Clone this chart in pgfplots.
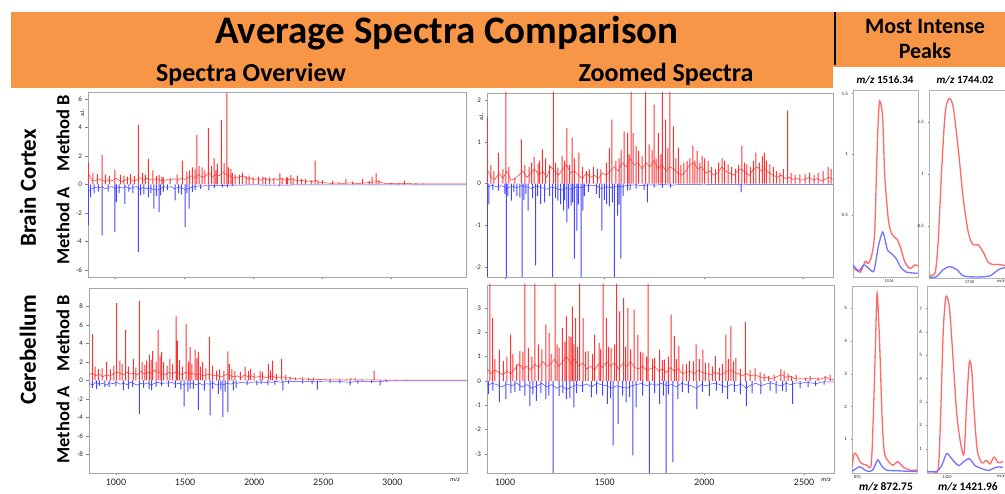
\documentclass[border=0pt]{standalone}
\usepackage{pgfplots}
\pgfplotsset{compat=1.18}
\usepackage{fontspec}
\setmainfont{Carlito}
\definecolor{hdr}{RGB}{247,150,70}
\definecolor{sred}{RGB}{255,50,50}
\definecolor{sblue}{RGB}{70,70,255}
\definecolor{pred}{RGB}{255,105,105}
\definecolor{pblue}{RGB}{115,115,255}
\newcommand{\fs}[1]{\fontsize{#1}{#1}\selectfont}
\pgfplotsset{
  mainax/.style={scale only axis, anchor=south west, axis line style={black!35},
    tick pos=left, tick align=outside, major tick length=2.5pt, minor tick length=1.5pt,
    every tick/.append style={black!50, line width=0.4pt},
    /pgf/number format/assume math mode=true, /pgf/number format/1000 sep={},
    yticklabel style={font=\fs{7}, text=black!85},
    xticklabel style={font=\fs{10}, text=black!85}},
  smallax/.style={scale only axis, anchor=south west, axis line style={black!30},
    tick pos=left, tick align=outside, major tick length=1.5pt,
    every tick/.append style={black!50, line width=0.3pt},
    /pgf/number format/assume math mode=true, /pgf/number format/1000 sep={},
    yticklabel style={font=\fs{5}, text=black!85},
    xticklabel style={font=\fs{4.5}, text=black!85, inner sep=1pt}},
  rpk/.style={ybar, bar width=1pt, bar shift=0pt, fill=sred, draw=none},
  bpk/.style={ybar, bar width=1pt, bar shift=0pt, fill=sblue, draw=none},
  rbase/.style={sred, line width=0.5pt, sharp plot},
  bbase/.style={sblue, line width=0.5pt, sharp plot},
  rsm/.style={pred, line width=1.3pt, smooth, tension=0.45},
  bsm/.style={pblue, line width=1.3pt, smooth, tension=0.45},
}
\begin{document}
\begin{tikzpicture}
\useasboundingbox (0pt,0pt) rectangle (1005pt,494pt);
% header
\fill[hdr] (11pt,482pt) rectangle (1005pt,427pt);
\fill[hdr] (11pt,427.5pt) rectangle (833pt,406pt);
\draw[line width=2.6pt] (835pt,482pt) -- (835pt,429pt);
\node[anchor=base, font=\bfseries\fs{39}] at (447pt,450pt) {Average Spectra Comparison};
\node[anchor=base, font=\bfseries\fs{26}] at (251pt,412.3pt) {Spectra Overview};
\node[anchor=base, font=\bfseries\fs{26}] at (666pt,412.3pt) {Zoomed Spectra};
\node[anchor=base, font=\bfseries\fs{22}] at (925pt,460.5pt) {Most Intense};
\node[anchor=base, font=\bfseries\fs{22}] at (925pt,435.5pt) {Peaks};
% row labels
\node[rotate=90, font=\bfseries\fs{23}] at (28pt,306pt) {Brain Cortex};
\node[rotate=90, font=\bfseries\fs{23}] at (28pt,144pt) {Cerebellum};
\node[rotate=90, font=\bfseries\fs{18.5}] at (63pt,361pt) {Method B};
\node[rotate=90, font=\bfseries\fs{18.5}] at (63pt,268pt) {Method A};
\node[rotate=90, font=\bfseries\fs{18.5}] at (63pt,161pt) {Method B};
\node[rotate=90, font=\bfseries\fs{18.5}] at (63pt,69pt) {Method A};
% peak labels
\node[anchor=base, font=\bfseries\fs{11}] at (885pt,410.5pt) {\textit{m/z} 1516.34};
\node[anchor=base, font=\bfseries\fs{11}] at (965pt,410.5pt) {\textit{m/z} 1744.02};
\node[anchor=base, font=\bfseries\fs{11.5}] at (886pt,3pt) {\textit{m/z} 872.75};
\node[anchor=base, font=\bfseries\fs{11.5}] at (968pt,3pt) {\textit{m/z} 1421.96};
% small axis texts
\node[rotate=90, font=\fs{6}] at (82pt,381pt) {a.i.};
\node[rotate=90, font=\fs{6}] at (481pt,377pt) {a.i.};
\node[font=\itshape\fs{6}] at (455pt,14pt) {m/z};
\node[font=\itshape\fs{6}] at (826pt,14pt) {m/z};
\node[font=\itshape\fs{4.5}] at (1001pt,213pt) {m/z};
\node[font=\itshape\fs{4.5}] at (1001pt,18pt) {m/z};

%================ Overview, Brain Cortex
\begin{axis}[mainax, at={(88pt,217pt)}, width=378pt, height=185pt,
  xmin=805, xmax=3540, ymin=-6.5, ymax=6.5,
  xtick={1000,1500,...,3000}, minor x tick num=4, xticklabels={},
  ytick={-6,-4,...,6}]
\addplot[rbase] coordinates {(805,0.9)(830,0.3)(855,0.25)(880,0.4)(905,0.3)(930,0.2)(955,0.35)(980,0.25)(1005,0.45)(1030,0.3)(1055,0.2)(1080,0.35)(1105,0.4)(1130,0.25)(1155,0.3)(1180,0.5)(1205,0.3)(1230,0.45)(1255,0.35)(1280,0.3)(1305,0.4)(1330,0.3)(1355,0.25)(1380,0.35)(1405,0.3)(1430,0.4)(1455,0.3)(1480,0.45)(1505,0.35)(1530,0.5)(1555,0.6)(1580,0.45)(1605,0.7)(1630,0.5)(1655,0.6)(1680,0.8)(1705,0.55)(1730,0.7)(1755,0.6)(1780,0.9)(1805,0.7)(1830,0.6)(1855,0.45)(1880,0.5)(1905,0.55)(1930,0.6)(1955,0.4)(1980,0.45)(2005,0.35)(2030,0.4)(2055,0.3)(2080,0.45)(2105,0.35)(2130,0.3)(2155,0.4)(2180,0.35)(2205,0.45)(2230,0.3)(2255,0.35)(2280,0.4)(2305,0.3)(2330,0.25)(2355,0.3)(2380,0.2)(2405,0.25)(2430,0.2)(2455,0.3)(2480,0.15)(2520,0.12)(2560,0.08)(2600,0.1)(2650,0.08)(2700,0.12)(2750,0.07)(2800,0.1)(2850,0.15)(2900,0.2)(2950,0.08)(3000,0.06)(3050,0.05)(3100,0.08)(3150,0.05)(3200,0.04)(3250,0.05)(3300,0.04)(3350,0.05)(3400,0.04)(3450,0.04)(3540,0.04)};
\addplot[rpk] coordinates {(807,1.57)(840,0.8)(872,0.75)(908,2.08)(930,0.7)(960,0.6)(1000,1.05)(1040,0.7)(1065,0.63)(1090,0.55)(1113,0.75)(1140,0.6)(1169,4.19)(1200,0.8)(1220,0.7)(1241,1.8)(1275,1.0)(1300,0.6)(1319,0.68)(1340,0.55)(1350,0.5)(1400,0.45)(1450,0.7)(1488,1.68)(1520,0.9)(1540,1.0)(1560,1.2)(1580,1.1)(1592,3.49)(1609,1.3)(1630,1.2)(1650,1.0)(1676,3.98)(1700,1.3)(1717,1.85)(1730,1.0)(1741,1.45)(1770,4.54)(1790,1.5)(1809,6.45)(1820,1.2)(1838,1.1)(1850,0.8)(1870,0.7)(1900,0.7)(1922,0.82)(1950,0.6)(1970,0.63)(2000,0.5)(2040,0.55)(2070,0.55)(2091,0.5)(2120,0.5)(2150,0.45)(2194,0.82)(2210,0.45)(2240,0.5)(2250,0.5)(2272,0.68)(2290,0.45)(2320,0.63)(2350,0.4)(2380,0.4)(2420,0.3)(2449,1.68)(2470,0.25)(2500,0.3)(2575,0.23)(2620,0.15)(2671,0.4)(2720,0.2)(2792,0.4)(2840,0.25)(2860,0.55)(2889,0.82)(2910,0.3)(3000,0.12)(3050,0.1)(3094,0.28)(3178,0.12)(3230,0.08)};
\addplot[bbase] coordinates {(805,-0.5)(830,-0.3)(855,-0.2)(880,-0.25)(905,-0.15)(930,-0.3)(955,-0.2)(980,-0.15)(1005,-0.3)(1030,-0.2)(1055,-0.25)(1080,-0.15)(1105,-0.3)(1130,-0.2)(1155,-0.15)(1180,-0.35)(1205,-0.2)(1230,-0.3)(1255,-0.25)(1280,-0.35)(1305,-0.4)(1330,-0.3)(1355,-0.15)(1380,-0.2)(1405,-0.15)(1430,-0.3)(1455,-0.2)(1480,-0.25)(1505,-0.35)(1530,-0.3)(1555,-0.2)(1580,-0.15)(1605,-0.1)(1630,-0.12)(1655,-0.08)(1680,-0.1)(1705,-0.06)(1730,-0.08)(1755,-0.05)(1780,-0.08)(1805,-0.06)(1830,-0.05)(1900,-0.04)(2000,-0.03)(2100,-0.04)(2200,-0.05)(2300,-0.03)(2500,-0.03)(2700,-0.02)(3000,-0.02)(3540,-0.02)};
\addplot[bpk] coordinates {(807,-2.88)(824,-0.9)(850,-0.6)(880,-0.5)(908,-3.58)(950,-0.5)(1000,-3.35)(1010,-1.24)(1030,-0.6)(1072,-1.36)(1100,-0.5)(1130,-0.6)(1169,-4.75)(1186,-0.77)(1210,-0.7)(1241,-0.9)(1260,-0.6)(1282,-1.7)(1300,-0.8)(1319,-1.94)(1331,-0.77)(1350,-0.5)(1380,-0.4)(1435,-1.12)(1460,-0.6)(1480,-0.7)(1507,-3.0)(1520,-0.6)(1536,-1.7)(1560,-0.54)(1580,-0.4)(1620,-0.3)(1680,-0.42)(1720,-0.25)(1778,-0.2)(1814,-0.2)(1850,-0.1)(2187,-0.14)};
\end{axis}

%================ Zoomed, Brain Cortex
\begin{axis}[mainax, at={(487pt,217pt)}, width=346pt, height=184pt,
  xmin=910, xmax=2650, ymin=-2.24, ymax=2.17,
  xtick={1000,1500,2000,2500}, minor x tick num=4, xticklabels={},
  ytick={-2,-1,0,1,2}]
\addplot[rbase] coordinates {(910,0.35)(930,0.15)(950,0.1)(970,0.25)(990,0.12)(1010,0.3)(1030,0.08)(1050,0.12)(1070,0.2)(1090,0.3)(1110,0.15)(1130,0.25)(1150,0.35)(1170,0.2)(1190,0.3)(1210,0.15)(1230,0.4)(1250,0.3)(1270,0.2)(1290,0.35)(1310,0.45)(1330,0.25)(1350,0.3)(1370,0.2)(1390,0.12)(1410,0.25)(1430,0.15)(1450,0.2)(1470,0.12)(1490,0.25)(1510,0.2)(1530,0.3)(1550,0.4)(1570,0.3)(1590,0.5)(1610,0.4)(1630,0.6)(1650,0.45)(1670,0.5)(1690,0.35)(1710,0.5)(1730,0.4)(1750,0.55)(1770,0.35)(1790,0.45)(1810,0.3)(1830,0.4)(1850,0.35)(1870,0.25)(1890,0.2)(1910,0.3)(1930,0.45)(1950,0.5)(1970,0.35)(1990,0.4)(2010,0.25)(2030,0.3)(2050,0.2)(2070,0.25)(2090,0.4)(2110,0.3)(2130,0.25)(2150,0.2)(2170,0.3)(2190,0.35)(2210,0.25)(2230,0.2)(2250,0.35)(2270,0.4)(2290,0.3)(2310,0.35)(2330,0.25)(2350,0.2)(2370,0.15)(2390,0.2)(2410,0.12)(2430,0.15)(2450,0.1)(2470,0.12)(2490,0.08)(2510,0.1)(2530,0.15)(2550,0.08)(2570,0.12)(2590,0.07)(2610,0.1)(2630,0.15)(2650,0.1)};
\addplot[rpk] coordinates {(912,1.61)(930,0.45)(945,0.3)(967,0.74)(990,0.35)(1005,2.5)(1020,0.4)(1050,0.14)(1083,1.06)(1100,0.45)(1122,0.4)(1135,0.5)(1147,0.63)(1167,0.48)(1175,0.55)(1188,0.82)(1205,0.6)(1225,0.45)(1244,2.5)(1255,0.5)(1267,0.38)(1288,0.66)(1300,0.55)(1312,1.33)(1325,0.45)(1338,1.1)(1350,0.6)(1372,0.74)(1390,0.4)(1410,0.3)(1425,0.34)(1445,0.4)(1465,0.35)(1483,0.34)(1510,0.5)(1525,0.85)(1538,1.53)(1558,0.54)(1575,0.6)(1585,0.8)(1600,1.25)(1617,1.21)(1625,0.7)(1635,2.5)(1645,1.21)(1660,0.9)(1672,0.78)(1690,0.65)(1708,2.5)(1725,0.94)(1740,0.8)(1750,1.89)(1760,0.6)(1772,1.21)(1785,0.7)(1792,2.5)(1808,1.53)(1820,0.85)(1830,2.5)(1847,1.37)(1860,0.6)(1872,0.86)(1885,0.45)(1900,0.5)(1917,0.54)(1930,0.6)(1945,0.9)(1955,0.55)(1967,0.78)(1980,0.5)(1992,0.66)(2005,0.6)(2022,0.54)(2040,0.4)(2060,0.35)(2075,0.5)(2092,0.6)(2105,0.55)(2122,0.46)(2140,0.4)(2160,0.35)(2175,0.45)(2192,0.9)(2205,0.5)(2217,0.46)(2235,0.4)(2250,0.55)(2262,0.74)(2280,0.5)(2295,0.65)(2305,0.74)(2315,0.55)(2333,0.46)(2350,0.4)(2365,0.3)(2383,0.26)(2400,0.35)(2422,1.75)(2440,0.25)(2460,0.2)(2483,0.22)(2510,0.22)(2533,0.26)(2555,0.2)(2575,0.26)(2600,0.3)(2625,0.4)(2640,0.35)};
\addplot[bbase] coordinates {(910,-0.1)(935,-0.04)(960,-0.08)(985,-0.05)(1010,-0.12)(1035,-0.06)(1060,-0.1)(1085,-0.05)(1110,-0.08)(1135,-0.12)(1160,-0.06)(1185,-0.1)(1210,-0.14)(1235,-0.08)(1260,-0.12)(1285,-0.16)(1310,-0.1)(1335,-0.14)(1360,-0.08)(1385,-0.1)(1410,-0.05)(1435,-0.04)(1460,-0.06)(1485,-0.12)(1510,-0.08)(1535,-0.1)(1560,-0.06)(1585,-0.08)(1610,-0.05)(1635,-0.04)(1660,-0.03)(1685,-0.05)(1710,-0.04)(1735,-0.03)(1760,-0.04)(1785,-0.02)(1810,-0.03)(1835,-0.04)(1900,-0.02)(2000,-0.03)(2100,-0.02)(2200,-0.03)(2300,-0.02)(2400,-0.02)(2500,-0.02)(2650,-0.02)};
\addplot[bpk] coordinates {(912,-2.5)(920,-0.5)(940,-0.15)(967,-0.17)(1000,-0.25)(1007,-2.5)(1015,-0.3)(1033,-0.41)(1045,-0.2)(1060,-0.3)(1075,-0.33)(1087,-2.5)(1095,-0.4)(1105,-0.25)(1117,-0.65)(1140,-0.35)(1155,-1.96)(1165,-0.3)(1180,-0.49)(1200,-0.45)(1225,-0.3)(1240,-2.5)(1255,-0.35)(1267,-0.41)(1280,-0.5)(1295,-0.65)(1300,-0.4)(1312,-0.93)(1320,-0.6)(1333,-0.53)(1340,-0.45)(1350,-1.8)(1362,-1.13)(1370,-0.5)(1383,-2.5)(1392,-0.65)(1400,-0.3)(1420,-0.2)(1460,-0.25)(1475,-0.35)(1488,-1.13)(1500,-0.4)(1512,-0.49)(1525,-0.55)(1540,-0.45)(1550,-2.5)(1567,-0.77)(1575,-0.5)(1583,-1.8)(1595,-0.3)(1617,-0.17)(1630,-0.15)(1660,-0.12)(1700,-0.15)(1717,-0.45)(1750,-0.1)(1792,-0.1)(1833,-0.1)(2188,-0.21)};
\end{axis}

%================ Overview, Cerebellum
\begin{axis}[mainax, at={(89pt,21pt)}, width=378pt, height=185pt,
  xmin=805, xmax=3540, ymin=-10, ymax=10,
  xtick={1000,1500,...,3000}, minor x tick num=4,
  ytick={-8,-6,...,8}]
\addplot[rbase] coordinates {(805,0.6)(830,0.8)(855,0.5)(880,0.7)(905,0.4)(930,0.6)(955,0.5)(980,0.7)(1005,0.9)(1030,0.8)(1055,0.6)(1080,0.9)(1105,0.7)(1130,0.8)(1155,0.6)(1180,1.0)(1205,0.7)(1230,0.9)(1255,0.8)(1280,1.1)(1305,0.9)(1330,0.8)(1355,0.6)(1380,0.9)(1405,0.7)(1430,0.9)(1455,0.8)(1480,0.6)(1505,0.9)(1530,0.7)(1555,0.8)(1580,0.6)(1605,0.7)(1630,0.5)(1655,0.6)(1680,0.7)(1705,0.5)(1730,0.6)(1755,0.4)(1780,0.5)(1805,0.7)(1830,0.5)(1855,0.4)(1880,0.5)(1905,0.3)(1930,0.6)(1955,0.4)(1980,0.5)(2005,0.35)(2030,0.4)(2055,0.5)(2080,0.3)(2105,0.4)(2130,0.5)(2155,0.3)(2180,0.35)(2205,0.4)(2230,0.25)(2255,0.3)(2280,0.2)(2305,0.15)(2330,0.2)(2355,0.15)(2380,0.18)(2405,0.1)(2430,0.15)(2455,0.12)(2480,0.1)(2520,0.08)(2560,0.06)(2600,0.08)(2650,0.05)(2700,0.08)(2750,0.06)(2800,0.05)(2850,0.08)(2900,0.05)(2950,0.04)(3000,0.05)(3100,0.04)(3200,0.03)(3300,0.04)(3400,0.03)(3540,0.03)};
\addplot[rpk] coordinates {(831,5.05)(850,1.5)(872,1.26)(900,1.3)(932,1.98)(960,1.2)(985,1.6)(1005,8.36)(1029,2.16)(1045,1.8)(1070,5.48)(1090,1.5)(1126,2.34)(1145,1.4)(1169,8.58)(1190,2.0)(1210,1.7)(1222,2.16)(1241,2.81)(1255,2.2)(1265,3.17)(1290,2.0)(1306,5.48)(1320,2.6)(1331,3.06)(1345,2.0)(1370,1.6)(1391,2.34)(1410,1.8)(1435,6.92)(1445,4.32)(1460,2.2)(1480,1.5)(1507,6.13)(1525,2.0)(1536,3.6)(1550,1.8)(1572,3.32)(1585,2.4)(1597,3.06)(1610,1.5)(1628,1.98)(1650,1.3)(1676,4.68)(1700,1.6)(1729,1.08)(1750,1.2)(1780,1.0)(1809,3.14)(1820,1.8)(1838,1.26)(1860,1.0)(1900,0.9)(1934,1.51)(1960,1.0)(1975,1.26)(2000,0.8)(2043,1.0)(2060,0.9)(2103,1.8)(2120,1.1)(2134,2.16)(2160,0.7)(2199,2.34)(2230,0.6)(2260,0.43)(2300,0.35)(2350,0.3)(2393,0.25)(2430,0.3)(2477,0.14)(2550,0.2)(2620,0.2)(2671,0.14)(2700,0.25)(2731,0.25)(2780,0.15)(2868,1.08)(2950,0.12)(3033,0.1)(3100,0.1)};
\addplot[bbase] coordinates {(805,-0.3)(830,-0.5)(855,-0.2)(880,-0.4)(905,-0.3)(930,-0.5)(955,-0.25)(980,-0.35)(1005,-0.2)(1030,-0.4)(1055,-0.3)(1080,-0.45)(1105,-0.2)(1130,-0.35)(1155,-0.5)(1180,-0.3)(1205,-0.4)(1230,-0.25)(1255,-0.5)(1280,-0.3)(1305,-0.2)(1330,-0.35)(1355,-0.25)(1380,-0.3)(1405,-0.2)(1430,-0.4)(1455,-0.3)(1480,-0.5)(1505,-0.35)(1530,-0.4)(1555,-0.3)(1580,-0.45)(1605,-0.3)(1630,-0.5)(1655,-0.35)(1680,-0.4)(1705,-0.3)(1730,-0.5)(1755,-0.35)(1780,-0.45)(1805,-0.3)(1830,-0.4)(1855,-0.25)(1880,-0.3)(1905,-0.2)(1930,-0.25)(1955,-0.3)(1980,-0.2)(2005,-0.15)(2030,-0.2)(2055,-0.15)(2080,-0.25)(2105,-0.15)(2130,-0.2)(2155,-0.1)(2180,-0.15)(2205,-0.2)(2230,-0.1)(2255,-0.15)(2280,-0.1)(2305,-0.12)(2330,-0.08)(2355,-0.15)(2380,-0.1)(2405,-0.12)(2430,-0.08)(2455,-0.2)(2480,-0.1)(2520,-0.05)(2560,-0.08)(2600,-0.1)(2650,-0.15)(2700,-0.2)(2750,-0.08)(2800,-0.1)(2850,-0.08)(2900,-0.15)(2950,-0.05)(3000,-0.04)(3100,-0.05)(3200,-0.03)(3300,-0.04)(3400,-0.03)(3540,-0.03)};
\addplot[bpk] coordinates {(830,-0.8)(860,-0.9)(880,-0.6)(920,-0.72)(950,-0.7)(1000,-0.6)(1053,-1.08)(1090,-0.9)(1120,-0.7)(1169,-3.6)(1200,-0.8)(1240,-0.9)(1258,-1.08)(1290,-0.7)(1330,-0.6)(1380,-0.7)(1430,-0.8)(1470,-1.0)(1493,-2.81)(1520,-1.2)(1536,-0.9)(1560,-0.9)(1597,-3.24)(1640,-1.1)(1681,-3.78)(1700,-0.9)(1741,-1.44)(1760,-1.0)(1773,-3.96)(1790,-1.2)(1809,-3.42)(1850,-1.08)(1870,-0.8)(1950,-0.5)(2019,-0.54)(2050,-0.4)(2100,-0.5)(2150,-0.45)(2207,-1.08)(2250,-0.35)(2350,-0.3)(2420,-0.4)(2458,-1.0)(2550,-0.25)(2620,-0.3)(2695,-0.54)(2750,-0.35)(2850,-0.25)(2912,-0.54)(2960,-0.18)};
\end{axis}

%================ Zoomed, Cerebellum
\begin{axis}[mainax, at={(487pt,21pt)}, width=347pt, height=188pt,
  xmin=910, xmax=2650, ymin=-3.78, ymax=3.94,
  xtick={1000,1500,2000,2500}, minor x tick num=4,
  ytick={-3,-2,...,3}]
\addplot[rbase] coordinates {(910,0.5)(930,0.3)(950,0.45)(970,0.35)(990,0.25)(1010,0.4)(1030,0.3)(1050,0.5)(1070,0.7)(1090,0.5)(1110,0.6)(1130,0.45)(1150,0.7)(1170,0.55)(1190,0.8)(1210,0.6)(1230,0.7)(1250,0.9)(1270,0.6)(1290,0.8)(1310,1.0)(1330,0.7)(1350,0.9)(1370,0.6)(1390,0.75)(1410,0.5)(1430,0.6)(1450,0.45)(1470,0.7)(1490,0.55)(1510,0.8)(1530,0.6)(1550,0.75)(1570,0.5)(1590,0.7)(1610,0.6)(1630,0.8)(1650,0.55)(1670,0.5)(1690,0.6)(1710,0.45)(1730,0.5)(1750,0.6)(1770,0.4)(1790,0.5)(1810,0.35)(1830,0.55)(1850,0.4)(1870,0.5)(1890,0.3)(1910,0.35)(1930,0.4)(1950,0.3)(1970,0.45)(1990,0.35)(2010,0.3)(2030,0.25)(2050,0.35)(2070,0.3)(2090,0.25)(2110,0.4)(2130,0.45)(2150,0.35)(2170,0.3)(2190,0.2)(2210,0.3)(2230,0.2)(2250,0.25)(2270,0.2)(2290,0.12)(2310,0.15)(2330,0.1)(2350,0.12)(2370,0.2)(2390,0.25)(2410,0.15)(2430,0.2)(2450,0.1)(2470,0.12)(2490,0.08)(2510,0.1)(2530,0.08)(2550,0.12)(2570,0.06)(2590,0.1)(2610,0.15)(2630,0.06)(2650,0.05)};
\addplot[rpk] coordinates {(925,4.2)(938,2.58)(950,0.9)(972,1.29)(992,0.82)(1010,1.0)(1028,1.9)(1040,1.1)(1058,0.68)(1075,1.22)(1090,1.2)(1100,4.2)(1117,1.36)(1135,1.0)(1150,4.2)(1167,1.5)(1185,1.3)(1205,2.31)(1222,1.97)(1232,1.1)(1252,4.2)(1262,1.5)(1272,1.36)(1288,2.18)(1300,1.6)(1308,2.65)(1322,1.84)(1330,1.8)(1338,3.06)(1345,1.5)(1355,2.58)(1365,1.4)(1375,4.2)(1392,2.58)(1405,1.2)(1417,1.22)(1440,1.1)(1450,1.9)(1472,1.56)(1480,1.3)(1492,4.2)(1508,2.58)(1520,1.4)(1533,1.36)(1550,1.5)(1560,4.2)(1575,2.86)(1595,3.4)(1605,1.4)(1617,2.99)(1630,1.3)(1648,2.93)(1667,1.9)(1680,1.2)(1692,1.16)(1710,1.0)(1718,4.2)(1740,0.9)(1750,0.95)(1775,1.29)(1790,0.85)(1800,0.88)(1820,1.0)(1833,2.72)(1850,1.84)(1860,0.9)(1872,1.43)(1892,0.68)(1910,0.7)(1925,0.82)(1945,0.8)(1958,1.5)(1975,0.9)(1992,1.29)(2005,0.75)(2022,0.75)(2040,0.6)(2055,1.02)(2075,0.55)(2090,0.7)(2108,1.9)(2120,0.9)(2133,2.24)(2145,0.8)(2158,0.95)(2180,0.5)(2205,2.41)(2230,0.45)(2255,0.52)(2280,0.35)(2300,0.3)(2322,0.2)(2350,0.25)(2383,0.48)(2400,0.4)(2420,0.3)(2438,0.2)(2460,0.25)(2508,0.14)(2530,0.2)(2570,0.15)(2605,0.2)(2630,0.25)};
\addplot[bbase] coordinates {(910,-0.2)(935,-0.1)(960,-0.15)(985,-0.25)(1010,-0.12)(1035,-0.2)(1060,-0.1)(1085,-0.25)(1110,-0.15)(1135,-0.3)(1160,-0.2)(1185,-0.1)(1210,-0.25)(1235,-0.15)(1260,-0.3)(1285,-0.2)(1310,-0.35)(1335,-0.25)(1360,-0.15)(1385,-0.2)(1410,-0.12)(1435,-0.25)(1460,-0.1)(1485,-0.15)(1510,-0.2)(1535,-0.3)(1560,-0.2)(1585,-0.25)(1610,-0.3)(1635,-0.2)(1660,-0.15)(1685,-0.1)(1710,-0.2)(1735,-0.12)(1760,-0.18)(1785,-0.1)(1810,-0.2)(1835,-0.15)(1860,-0.25)(1885,-0.1)(1910,-0.15)(1935,-0.2)(1960,-0.3)(1985,-0.15)(2010,-0.2)(2035,-0.12)(2060,-0.1)(2085,-0.18)(2110,-0.25)(2135,-0.15)(2160,-0.2)(2185,-0.12)(2210,-0.3)(2235,-0.15)(2260,-0.1)(2285,-0.2)(2310,-0.12)(2335,-0.08)(2360,-0.15)(2385,-0.2)(2410,-0.1)(2435,-0.15)(2460,-0.08)(2485,-0.1)(2510,-0.05)(2535,-0.08)(2560,-0.12)(2585,-0.05)(2610,-0.04)(2650,-0.04)};
\addplot[bpk] coordinates {(917,-0.54)(940,-0.4)(972,-0.88)(1005,-0.75)(1030,-0.5)(1050,-0.45)(1075,-0.41)(1100,-0.6)(1125,-1.02)(1140,-0.55)(1158,-0.82)(1180,-0.5)(1205,-0.75)(1220,-0.6)(1242,-4.0)(1272,-0.61)(1290,-0.5)(1308,-0.75)(1325,-0.7)(1345,-1.09)(1360,-0.5)(1390,-0.45)(1433,-0.68)(1460,-0.55)(1490,-0.6)(1513,-0.95)(1530,-0.7)(1542,-2.65)(1567,-1.77)(1590,-0.6)(1608,-0.88)(1625,-0.65)(1642,-3.06)(1658,-1.09)(1690,-0.6)(1724,-4.0)(1750,-0.5)(1775,-0.95)(1795,-0.6)(1808,-4.0)(1820,-0.55)(1842,-3.33)(1867,-0.75)(1890,-0.45)(1920,-0.5)(1962,-1.16)(1990,-0.45)(2025,-0.61)(2060,-0.4)(2090,-0.5)(2117,-0.75)(2150,-0.45)(2180,-0.55)(2210,-1.02)(2240,-0.5)(2283,-0.54)(2330,-0.4)(2360,-0.5)(2392,-0.41)(2410,-0.45)(2442,-0.95)(2480,-0.3)(2520,-0.25)(2558,-0.2)(2600,-0.15)};
\end{axis}

%================ Most intense peaks
\begin{axis}[smallax, at={(853pt,217pt)}, width=65pt, height=187pt,
  xmin=1511, xmax=1520, ymin=-0.01, ymax=1.53,
  xtick={1516}, ytick={0.5,1,1.5}]
\addplot[rsm] coordinates {(1511.0,0.07)(1512.0,0.03)(1512.7,0.12)(1513.1,0.1)(1513.6,0.17)(1514.0,0.36)(1514.3,0.96)(1514.5,1.29)(1514.7,1.44)(1515.1,1.31)(1515.4,0.82)(1515.9,0.46)(1516.4,0.34)(1517.1,0.30)(1517.6,0.23)(1518.2,0.11)(1518.9,0.06)(1519.6,0.09)(1520.0,0.08)};
\addplot[bsm] coordinates {(1511.0,0.09)(1511.8,0.04)(1512.5,0.09)(1513.2,0.06)(1513.9,0.04)(1514.5,0.24)(1515.1,0.36)(1515.5,0.28)(1515.8,0.21)(1516.4,0.18)(1517.0,0.14)(1517.6,0.07)(1518.4,0.03)(1520.0,0.02)};
\end{axis}
\begin{axis}[smallax, at={(929pt,216pt)}, width=81pt, height=188pt,
  xmin=1732, xmax=1748, ymin=0, ymax=1.81,
  xtick={1740}, ytick={0.5,1,1.5}]
\addplot[rsm] coordinates {(1732.1,0.03)(1733.2,0.05)(1733.8,0.34)(1734.5,1.04)(1735.2,1.59)(1736.0,1.73)(1736.8,1.64)(1737.8,1.23)(1738.8,0.75)(1739.8,0.43)(1740.7,0.32)(1741.7,0.32)(1742.7,0.25)(1743.7,0.15)(1744.7,0.13)(1745.7,0.13)(1747.0,0.12)};
\addplot[bsm] coordinates {(1732.0,0.01)(1733.4,0.01)(1734.8,0.08)(1736.1,0.11)(1737.5,0.08)(1738.8,0.02)(1741.4,0.01)(1744.0,0.02)(1745.7,0.08)(1747.0,0.1)};
\end{axis}
\begin{axis}[smallax, at={(852pt,21pt)}, width=65pt, height=187pt,
  xmin=869.3, xmax=878.1, ymin=-0.03, ymax=5.68,
  xtick={870}, ytick={1,2,3,4,5}]
\addplot[rsm] coordinates {(869.30,0.16)(869.61,0.57)(869.93,0.52)(870.53,0.27)(871.21,0.22)(871.89,0.22)(872.20,1.8)(872.47,3.82)(872.70,5.46)(873.02,4.03)(873.39,1.59)(873.70,0.57)(874.29,0.31)(874.83,0.21)(875.51,0.31)(876.19,0.16)(877.11,0.06)(878.10,0.06)};
\addplot[bsm] coordinates {(869.30,0.02)(870.29,0.16)(870.74,0.11)(871.43,0.02)(872.11,0.06)(872.79,0.37)(873.25,0.21)(873.93,0.06)(875.29,0.04)(877.11,0.02)(878.10,0.02)};
\end{axis}
\begin{axis}[smallax, at={(927pt,21pt)}, width=83pt, height=187pt,
  xmin=1416.67, xmax=1430.5, ymin=-0.04, ymax=7.96,
  xtick={1420}, ytick={1,2,...,7}]
\addplot[rsm] coordinates {(1416.72,0.02)(1417.72,0.02)(1418.55,0.15)(1418.95,2.5)(1419.39,6.1)(1419.83,7.5)(1420.39,7.07)(1420.95,5.1)(1421.62,2.5)(1422.28,1.22)(1422.84,0.79)(1423.28,2.94)(1423.72,4.7)(1424.12,4.36)(1424.55,2.5)(1425.05,0.93)(1425.78,0.4)(1426.62,0.5)(1427.17,0.35)(1427.84,0.64)(1428.55,0.4)(1429.33,0.45)};
\addplot[bsm] coordinates {(1416.72,0.02)(1418.28,0.03)(1419.12,0.28)(1419.95,0.79)(1420.78,0.57)(1421.89,0.28)(1422.72,0.43)(1423.72,0.57)(1424.67,0.28)(1425.78,0.15)(1426.89,0.07)(1428.28,0.21)(1429.33,0.2)};
\end{axis}
\end{tikzpicture}
\end{document}
